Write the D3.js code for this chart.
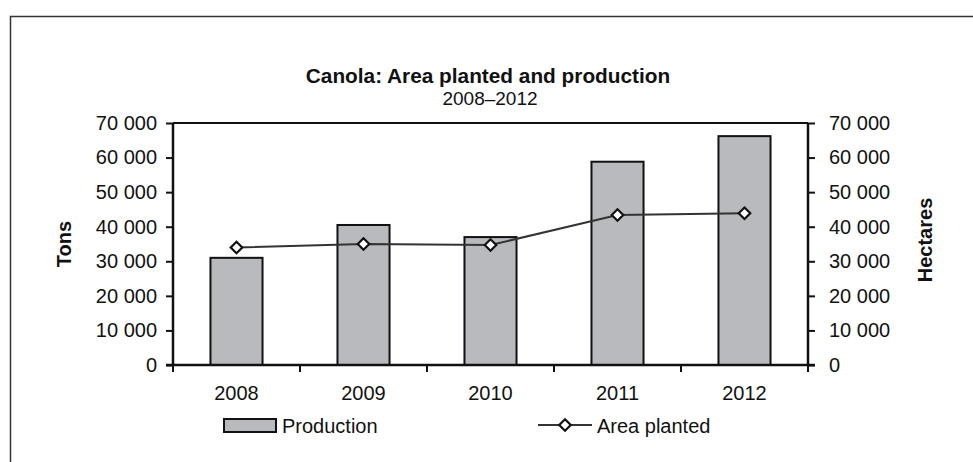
<!DOCTYPE html>
<html>
<head>
<meta charset="utf-8">
<script src="https://cdn.jsdelivr.net/npm/d3@7"></script>
<style>
  body { margin: 0; background: #fff; }
  svg { display: block; font-family: "Liberation Sans", Arial, sans-serif; }
</style>
</head>
<body>
<div id="chart"></div>
<script>
// chart data
var years = ["2008", "2009", "2010", "2011", "2012"];
var production = [31000, 40500, 37000, 58800, 66200];
var areaPlanted = [34000, 35000, 34700, 43400, 43900];
var yTicks = [0, 10000, 20000, 30000, 40000, 50000, 60000, 70000];

var width = 973, height = 462;
var plotLeft = 173, plotRight = 808, plotTop = 123, plotBottom = 365;

var svg = d3.select("#chart").append("svg")
    .attr("width", width)
    .attr("height", height);

// outer frame (bottom / right cut off in the original)
svg.append("path")
    .attr("d", "M10.5,470V16.5H980")
    .attr("fill", "none")
    .attr("stroke", "#333")
    .attr("stroke-width", 1.5);

var x = d3.scaleBand().domain(years).range([plotLeft, plotRight]).paddingInner(0.59).paddingOuter(0.295);
var xc = d3.scaleBand().domain(years).range([plotLeft, plotRight]);
var yL = d3.scaleLinear().domain([0, 70000]).range([plotBottom, plotTop]);
var yR = d3.scaleLinear().domain([0, 70000]).range([plotBottom, plotTop]);

var fmt = function(d) { return d3.format(",")(d).replace(/,/g, " "); };

// title
svg.append("text").attr("x", 488).attr("y", 83).attr("text-anchor", "middle")
    .attr("font-weight", "bold").attr("font-size", 20.8).attr("fill", "#111")
    .text("Canola: Area planted and production");
svg.append("text").attr("x", 490).attr("y", 105).attr("text-anchor", "middle")
    .attr("font-size", 19).attr("fill", "#111").text("2008–2012");

// bars
svg.append("g").selectAll("rect")
    .data(production)
    .enter().append("rect")
    .attr("x", function(d, i) { return x(years[i]); })
    .attr("y", function(d) { return yL(d); })
    .attr("width", x.bandwidth())
    .attr("height", function(d) { return plotBottom - yL(d); })
    .attr("fill", "#b9babd")
    .attr("stroke", "#111")
    .attr("stroke-width", 2);

// top border of plot
svg.append("line").attr("x1", plotLeft).attr("x2", plotRight).attr("y1", plotTop).attr("y2", plotTop)
    .attr("stroke", "#111").attr("stroke-width", 2);

// left axis
var gl = svg.append("g").attr("transform", "translate(" + plotLeft + ",0)")
    .call(d3.axisLeft(yL).tickValues(yTicks).tickFormat(fmt).tickSize(7).tickPadding(9));
// right axis
var gr = svg.append("g").attr("transform", "translate(" + plotRight + ",0)")
    .call(d3.axisRight(yR).tickValues(yTicks).tickFormat(fmt).tickSize(7).tickPadding(14));
// bottom axis: ticks between categories
var gb = svg.append("g").attr("transform", "translate(0," + plotBottom + ")")
    .call(d3.axisBottom(xc).tickSize(0).tickPadding(21));

[gl, gr, gb].forEach(function(g) {
    g.selectAll("path.domain").attr("stroke", "#111").attr("stroke-width", 2.5);
    g.selectAll(".tick line").attr("stroke", "#111").attr("stroke-width", 2);
    g.selectAll("text").attr("font-size", 20).attr("fill", "#111")
        .attr("font-family", "Liberation Sans, Arial, sans-serif");
});
gl.select("path.domain").attr("d", "M0," + plotBottom + "V" + plotTop);
gr.select("path.domain").attr("d", "M0," + plotBottom + "V" + plotTop);
gb.select("path.domain").attr("d", "M" + (plotLeft - 7) + ",0H" + (plotRight + 7));

var sep = d3.range(years.length + 1).map(function(i) { return plotLeft + i * xc.step(); });
gb.selectAll("line.sep").data(sep).enter().append("line")
    .attr("class", "sep")
    .attr("x1", function(d) { return d; }).attr("x2", function(d) { return d; })
    .attr("y1", 0).attr("y2", 7)
    .attr("stroke", "#111").attr("stroke-width", 2);

// axis titles
svg.append("text").attr("transform", "translate(71,244) rotate(-90)")
    .attr("text-anchor", "middle").attr("font-weight", "bold").attr("font-size", 20)
    .attr("fill", "#111").text("Tons");
svg.append("text").attr("transform", "translate(932,240) rotate(-90)")
    .attr("text-anchor", "middle").attr("font-weight", "bold").attr("font-size", 20)
    .attr("fill", "#111").text("Hectares");

// line series on right axis
var cx = function(i) { return xc(years[i]) + xc.bandwidth() / 2; };
var line = d3.line()
    .x(function(d, i) { return cx(i); })
    .y(function(d) { return yR(d); });

svg.append("path").datum(areaPlanted)
    .attr("d", line)
    .attr("fill", "none")
    .attr("stroke", "#333")
    .attr("stroke-width", 2);

var diamond = d3.symbol().type(d3.symbolDiamond2).size(85);
svg.append("g").selectAll("path")
    .data(areaPlanted)
    .enter().append("path")
    .attr("d", diamond)
    .attr("transform", function(d, i) { return "translate(" + cx(i) + "," + yR(d) + ")"; })
    .attr("fill", "#fff")
    .attr("stroke", "#111")
    .attr("stroke-width", 2.2);

// legend
var lg = svg.append("g");
lg.append("rect").attr("x", 224).attr("y", 419).attr("width", 52).attr("height", 13)
    .attr("fill", "#b9babd").attr("stroke", "#111").attr("stroke-width", 2);
lg.append("text").attr("x", 282).attr("y", 433).attr("font-size", 20).attr("fill", "#111").text("Production");
lg.append("line").attr("x1", 538).attr("x2", 592).attr("y1", 425).attr("y2", 425)
    .attr("stroke", "#333").attr("stroke-width", 2);
lg.append("path").attr("d", diamond).attr("transform", "translate(565,425)")
    .attr("fill", "#fff").attr("stroke", "#111").attr("stroke-width", 2.2);
lg.append("text").attr("x", 597).attr("y", 433).attr("font-size", 20).attr("fill", "#111").text("Area planted");
</script>
</body>
</html>
